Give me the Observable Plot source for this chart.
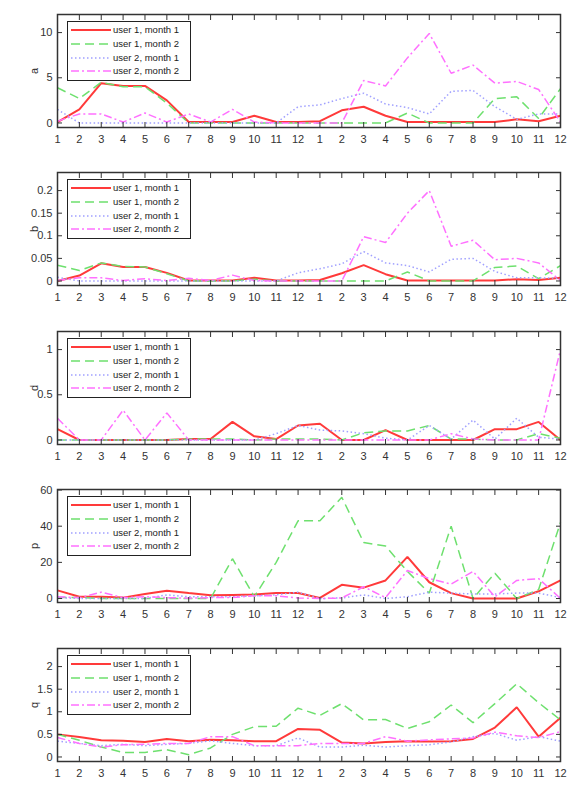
<!DOCTYPE html>
<html>
<head>
<meta charset="utf-8">
<script src="https://cdn.jsdelivr.net/npm/d3@7"></script>
<script src="https://cdn.jsdelivr.net/npm/@observablehq/plot@0.6"></script>
<style>
  html, body { margin: 0; padding: 0; background: #fff; }
  #chart { width: 578px; }
  .panel { position: relative; }
  .legend { position: absolute; background: #fff; box-sizing: border-box; border: 1.5px solid #222; }
</style>
</head>
<body>
<div id="chart"></div>
<script>
// ---- categories / tick labels ----
const xIndex = d3.range(1, 25);
const monthLabels = ["1","2","3","4","5","6","7","8","9","10","11","12","1","2","3","4","5","6","7","8","9","10","11","12"];
const seriesNames = ["user 1, month 1", "user 1, month 2", "user 2, month 1", "user 2, month 2"];
const panelNames = ["a", "b", "d", "p", "q"];

// ---- panel a ----
const a_u1m1 = [0.1,1.5,4.4,4.1,4.1,2.5,0.1,0.1,0.1,0.8,0.1,0.1,0.2,1.4,1.8,0.8,0.1,0.1,0.1,0.1,0.1,0.4,0.2,0.8];
const a_u1m2 = [3.9,2.7,4.5,4.0,4.0,2.2,0,0,0,0,0,0,0,0,0,0,1.1,0,0,0,2.7,2.9,0.5,3.8];
const a_u2m1 = [1.5,0,0,0,0,0,0,0,0,0,0,1.8,2.0,2.7,3.3,2.1,1.7,1.0,3.5,3.6,1.8,0.4,1.0,1.0];
const a_u2m2 = [0.2,1.0,1.0,0.1,1.1,0.1,1.0,0.1,1.5,0.1,0,0,0,0,4.7,4.1,7.2,9.9,5.5,6.4,4.4,4.6,3.7,0.1];
const a_ticks = [0, 5, 10];

// ---- panel b ----
const b_u1m1 = [0,0.012,0.039,0.031,0.031,0.018,0.001,0.001,0.001,0.007,0.001,0.001,0.002,0.017,0.035,0.015,0.001,0.001,0.001,0.001,0.001,0.004,0.002,0.007];
const b_u1m2 = [0.035,0.023,0.04,0.032,0.031,0.016,0,0,0,0.004,0,0,0,0,0,0,0.02,0,0,0,0.03,0.033,0.005,0.034];
const b_u2m1 = [0.008,0,0,0,0,0,0,0,0,0,0,0.018,0.027,0.038,0.065,0.04,0.034,0.02,0.048,0.05,0.021,0.007,0.007,0.006];
const b_u2m2 = [0.001,0.007,0.007,0.001,0.005,0.001,0.006,0.001,0.013,0.001,0,0,0,0,0.098,0.085,0.15,0.2,0.077,0.09,0.047,0.05,0.04,0.001];
const b_ticks = [0, 0.05, 0.1, 0.15, 0.2];

// ---- panel d ----
const d_u1m1 = [0.12,0,0,0,0,0,0.01,0.01,0.2,0.04,0.01,0.16,0.18,0,0,0.11,0,0,0,0,0.12,0.12,0.2,0];
const d_u1m2 = [0,0,0,0,0,0,0.01,0.01,0.01,0,0.01,0.01,0.01,0,0.08,0.1,0.1,0.16,0.01,0.01,0,0,0.07,0.02];
const d_u2m1 = [0,0,0,0,0,0,0,0,0,0,0.07,0.16,0.11,0.1,0.07,0.02,0,0.16,0.01,0.22,0.01,0.24,0.03,0.01];
const d_u2m2 = [0.24,0,0,0.33,0,0.3,0,0,0,0,0,0,0,0,0,0,0,0,0.07,0.01,0,0,0,1.0];
const d_ticks = [0, 0.5, 1];

// ---- panel p ----
const p_u1m1 = [4.5,1,1,0.5,2.5,4.3,3,1.8,2,2.2,3,3.1,0.3,7.6,6,10,23,9,3,0,0,0,4,10];
const p_u1m2 = [0.5,0.5,0,0,0,0,0,0,22,1,20,43,43,56,31,29,15,3,40,0,14,0,5,42];
const p_u2m1 = [0.5,0,0,0,0,2,1,1,1,1.5,2,3.5,0,0.3,2,0,1,3.5,3,2.5,2.5,3,3,0.5];
const p_u2m2 = [1,0.5,3.5,0.5,1,0.5,0.2,0.5,0.5,1.5,1.5,0.3,0,0.3,6.5,0.5,15.5,11,8,15,1,10,11,0];
const p_ticks = [0, 20, 40, 60];

// ---- panel q ----
const q_u1m1 = [0.5,0.44,0.37,0.36,0.33,0.4,0.35,0.38,0.37,0.35,0.35,0.62,0.6,0.32,0.3,0.33,0.35,0.34,0.35,0.4,0.65,1.1,0.45,0.87];
const q_u1m2 = [0.5,0.37,0.22,0.1,0.1,0.16,0.05,0.2,0.5,0.67,0.68,1.08,0.92,1.18,0.82,0.83,0.63,0.78,1.15,0.76,1.18,1.62,1.2,0.82];
const q_u2m1 = [0.35,0.3,0.25,0.28,0.25,0.28,0.3,0.36,0.3,0.25,0.25,0.42,0.22,0.22,0.26,0.22,0.25,0.27,0.33,0.45,0.52,0.37,0.45,0.35];
const q_u2m2 = [0.43,0.3,0.22,0.27,0.28,0.3,0.3,0.45,0.45,0.25,0.25,0.25,0.3,0.3,0.3,0.45,0.35,0.38,0.4,0.42,0.55,0.47,0.43,0.56];
const q_ticks = [0, 0.5, 1, 1.5, 2];

// ---- assemble (styles kept separate from data) ----
const panels = [
  {name: "a", series: [a_u1m1, a_u1m2, a_u2m1, a_u2m2], ticks: a_ticks, domain: [-0.5, 12]},
  {name: "b", series: [b_u1m1, b_u1m2, b_u2m1, b_u2m2], ticks: b_ticks, domain: [-0.01, 0.24]},
  {name: "d", series: [d_u1m1, d_u1m2, d_u2m1, d_u2m2], ticks: d_ticks, domain: [-0.05, 1.2]},
  {name: "p", series: [p_u1m1, p_u1m2, p_u2m1, p_u2m2], ticks: p_ticks, domain: [-2.2, 60.3]},
  {name: "q", series: [q_u1m1, q_u1m2, q_u2m1, q_u2m2], ticks: q_ticks, domain: [-0.1, 2.4]}
];
const styles = [
  {stroke: "#ff3a3a", strokeWidth: 2, dash: null},
  {stroke: "#6ee06e", strokeWidth: 1.5, dash: "9,5"},
  {stroke: "#a0a0ff", strokeWidth: 1.5, dash: "1.5,2.5"},
  {stroke: "#ff70ff", strokeWidth: 1.5, dash: "8,3,2,3"}
];
const heights = [158, 159, 158, 159, 154];
const font = "'Liberation Sans', Arial, Helvetica, sans-serif";

const chart = document.getElementById("chart");
panels.forEach((p, pi) => {
  const H = heights[pi];
  const frameH = 113;
  const lineMarks = p.series.map((vals, si) => Plot.line(
    vals.map((v, i) => ({x: xIndex[i], y: v, s: seriesNames[si]})),
    {x: "x", y: "y", stroke: styles[si].stroke, strokeWidth: styles[si].strokeWidth,
     strokeDasharray: styles[si].dash, strokeLinejoin: "miter", strokeLinecap: "butt"}
  ));
  const svg = Plot.plot({
    width: 578,
    height: H,
    marginTop: 14,
    marginBottom: H - 14 - frameH,
    marginLeft: 57,
    marginRight: 18,
    style: {fontFamily: font, fontSize: "11px", color: "#333", background: "#fff", overflow: "visible"},
    x: {type: "linear", domain: [1, 24]},
    y: {type: "linear", domain: p.domain},
    marks: [
      ...lineMarks,
      Plot.axisX(xIndex, {anchor: "bottom", tickSize: 0, tickPadding: 8, tickFormat: d => monthLabels[d - 1], label: null, fontSize: 11}),
      Plot.axisX(xIndex, {anchor: "bottom", tickSize: -5, tickFormat: () => "", label: null, stroke: "#333"}),
      Plot.axisX(xIndex, {anchor: "top", tickSize: -5, tickFormat: () => "", label: null, stroke: "#333"}),
      Plot.axisY(p.ticks, {anchor: "left", tickSize: 0, tickPadding: 5, tickFormat: d => String(d), label: p.name, labelAnchor: "center", labelOffset: 27, labelArrow: "none", fontSize: 11}),
      Plot.axisY(p.ticks, {anchor: "left", tickSize: -5, tickFormat: () => "", label: null, stroke: "#333"}),
      Plot.axisY(p.ticks, {anchor: "right", tickSize: -5, tickFormat: () => "", label: null, stroke: "#333"}),
      Plot.frame({stroke: "#333", strokeWidth: 1.5})
    ]
  });
  const wrap = document.createElement("div");
  wrap.className = "panel";
  wrap.style.height = H + "px";
  wrap.appendChild(svg);

  // legend (HTML overlay)
  const lg = d3.select(wrap).append("div").attr("class", "legend")
    .style("left", "67px").style("top", "21px").style("width", "124px").style("height", "60px");
  const ls = lg.append("svg").attr("width", 121).attr("height", 57)
    .style("position", "absolute").style("left", "0px").style("top", "0px");
  const rowY = [8, 22, 36, 49];
  seriesNames.forEach((name, si) => {
    ls.append("line").attr("x1", 3).attr("x2", 43).attr("y1", rowY[si]).attr("y2", rowY[si])
      .attr("stroke", styles[si].stroke).attr("stroke-width", styles[si].strokeWidth)
      .attr("stroke-dasharray", styles[si].dash);
    ls.append("text").attr("x", 45).attr("y", rowY[si]).attr("dy", "0.35em")
      .attr("font-family", font).attr("font-size", "9.5px").attr("fill", "#222")
      .text(name);
  });
  chart.appendChild(wrap);
});
</script>
</body>
</html>
